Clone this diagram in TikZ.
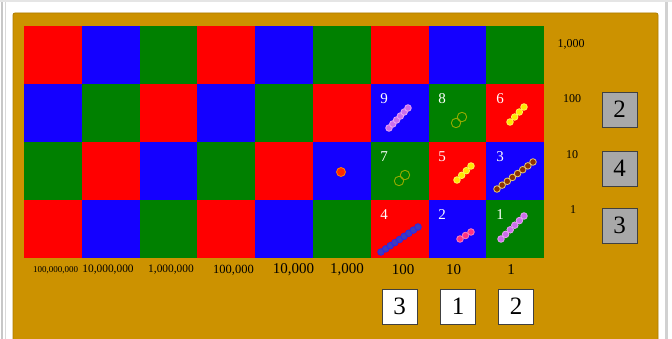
\documentclass[tikz,border=0pt]{standalone}
\usepackage{fontspec}
\setmainfont{Liberation Serif}
\usetikzlibrary{calc}
\definecolor{gold}{RGB}{204,146,0}
\definecolor{cred}{RGB}{255,0,0}
\definecolor{cblue}{RGB}{20,0,255}
\definecolor{cgreen}{RGB}{0,128,0}
\definecolor{boxgray}{RGB}{168,168,168}
\definecolor{vfill}{RGB}{204,110,236}
\definecolor{vdraw}{RGB}{232,165,245}
\definecolor{yfill}{RGB}{255,232,0}
\definecolor{ydraw}{RGB}{255,244,90}
\definecolor{brfill}{RGB}{140,50,0}
\definecolor{brdraw}{RGB}{232,200,110}
\definecolor{bbfill}{RGB}{60,60,190}
\definecolor{bbdraw}{RGB}{40,40,235}
\definecolor{pkfill}{RGB}{255,50,130}
\definecolor{pkdraw}{RGB}{255,130,185}
\definecolor{rbfill}{RGB}{255,40,0}
\definecolor{rbdraw}{RGB}{255,130,0}
\definecolor{hollow}{RGB}{150,170,0}
\newcommand{\beadbar}[6]{%
  \foreach \i in {1,...,#5}{%
    \pgfmathsetmacro\bt{(\i-1)/(#5-1)}%
    \path[#6,line width=0.8pt] ({#1+(#3-#1)*\bt},{#2+(#4-#2)*\bt}) circle[radius=3.3];
  }}
\begin{document}
\begin{tikzpicture}[x=1pt,y=-1pt,
  cell/.style={minimum width=57.8pt,minimum height=58pt,inner sep=0pt,outer sep=0pt},
  lbl/.style={inner sep=0pt,font=\fontsize{#1}{#1}\selectfont},
  cnum/.style={inner sep=0pt,text=white,font=\fontsize{15}{15}\selectfont},
  numbox/.style={minimum width=35pt,minimum height=35pt,inner sep=0pt,draw=black!75,line width=0.8pt,font=\fontsize{25}{25}\selectfont},
  violet/.style={fill=vfill,draw=vdraw},
  yellowb/.style={fill=yfill,draw=ydraw},
  brownb/.style={fill=brfill,draw=brdraw},
  blueb/.style={fill=bbfill,draw=bbdraw},
  pinkb/.style={fill=pkfill,draw=pkdraw},
  hollowb/.style={draw=hollow,line width=0.9pt}]
\useasboundingbox (0,0) rectangle (672,339);
% frame
\fill[white] (0,0) rectangle (672,339);
\draw[black!22,line width=2pt] (1.5,0) -- (1.5,339);
\draw[black!15,line width=1pt] (5.5,0) -- (5.5,339);
\draw[black!18,line width=3pt] (666,0) -- (666,339);
\draw[black!10,line width=2pt] (0,1) -- (672,1);
\fill[gold,draw=gold!85!black,line width=0.8pt,rounded corners=2pt] (13,13) rectangle (658,345);
% grid
\foreach \col [count=\c from 0] in {cred,cblue,cgreen,cred,cblue,cgreen,cred,cblue,cgreen}
  \node[cell,fill=\col] (c-0-\c) at ({52.9+57.8*\c},55) {};
\foreach \col [count=\c from 0] in {cblue,cgreen,cred,cblue,cgreen,cred,cblue,cgreen,cred}
  \node[cell,fill=\col] (c-1-\c) at ({52.9+57.8*\c},113) {};
\foreach \col [count=\c from 0] in {cgreen,cred,cblue,cgreen,cred,cblue,cgreen,cred,cblue}
  \node[cell,fill=\col] (c-2-\c) at ({52.9+57.8*\c},171) {};
\foreach \col [count=\c from 0] in {cred,cblue,cgreen,cred,cblue,cgreen,cred,cblue,cgreen}
  \node[cell,fill=\col] (c-3-\c) at ({52.9+57.8*\c},229) {};
% cell numbers
\node[cnum] (n9) at (384,99) {9};
\node[cnum] (n8) at (442,99) {8};
\node[cnum] (n6) at (500,99) {6};
\node[cnum] (n7) at (384,157) {7};
\node[cnum] (n5) at (442,157) {5};
\node[cnum] (n3) at (500,157) {3};
\node[cnum] (n4) at (384,215) {4};
\node[cnum] (n2) at (442,215) {2};
\node[cnum] (n1) at (500,215) {1};
% beads
\beadbar{389}{128}{408}{108}{6}{violet}
\beadbar{510}{122}{524}{107}{4}{yellowb}
\beadbar{457}{180}{471}{166}{4}{yellowb}
\beadbar{497}{189}{533}{162}{8}{brownb}
\beadbar{381}{252}{418}{227}{9}{blueb}
\beadbar{460}{239}{471}{232}{3}{pinkb}
\beadbar{501}{239}{524}{216}{6}{violet}
\draw[hollowb] (456,123) circle[radius=4.7] (462,117) circle[radius=4.7];
\draw[hollowb] (399,181) circle[radius=4.7] (405,175) circle[radius=4.7];
\fill[rbfill,draw=rbdraw,line width=0.8pt] (341,172) circle[radius=4.5];
% right labels
\node[lbl=12] (r1000) at (571,44) {1,000};
\node[lbl=12] (r100) at (572,99) {100};
\node[lbl=12] (r10) at (572,155) {10};
\node[lbl=12] (r1) at (573,210) {1};
\node[numbox,fill=boxgray] (g100) at (619.5,109.5) {2};
\node[numbox,fill=boxgray] (g10) at (619.5,168.5) {4};
\node[numbox,fill=boxgray] (g1) at (619.5,225.5) {3};
% bottom labels
\node[lbl=9] (b1e8) at (55.5,270) {100,000,000};
\node[lbl=11.4] (b1e7) at (108,270) {10,000,000};
\node[lbl=11.4] (b1e6) at (171,270) {1,000,000};
\node[lbl=12.5] (b1e5) at (233.5,270) {100,000};
\node[lbl=15] (b1e4) at (293.5,270) {10,000};
\node[lbl=15] (b1e3) at (347,270) {1,000};
\node[lbl=15] (b1e2) at (403,270) {100};
\node[lbl=15] (b1e1) at (453.5,270) {10};
\node[lbl=15] (b1e0) at (511,270) {1};
\node[numbox,fill=white] (w100) at (399.5,306.5) {3};
\node[numbox,fill=white] (w10) at (458,306.5) {1};
\node[numbox,fill=white] (w1) at (516,306.5) {2};
\end{tikzpicture}
\end{document}
